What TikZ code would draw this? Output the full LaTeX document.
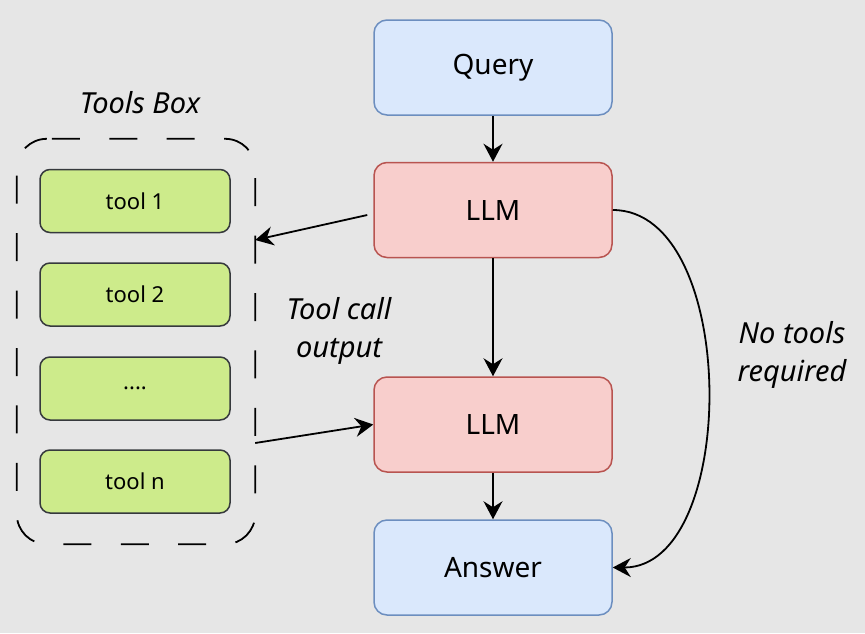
\documentclass[tikz,border=0pt]{standalone}
\usepackage{fontspec}
\setmainfont{Noto Sans}
\usetikzlibrary{arrows.meta}
\definecolor{bg}{HTML}{E6E6E6}
\definecolor{bluefill}{HTML}{DAE8FC}
\definecolor{blueedge}{HTML}{6C8EBF}
\definecolor{redfill}{HTML}{F8CECC}
\definecolor{rededge}{HTML}{B85450}
\definecolor{greenfill}{HTML}{CDEB8B}
\definecolor{greenedge}{HTML}{36393D}
\tikzset{
  mainbox/.style={rounded corners=13pt, minimum width=238pt, minimum height=95pt,
    line width=1.5pt, inner sep=0pt, font=\fontsize{28}{32}\selectfont},
  bluebox/.style={mainbox, draw=blueedge, fill=bluefill},
  redbox/.style={mainbox, draw=rededge, fill=redfill},
  toolitem/.style={rounded corners=10pt, minimum width=190pt, minimum height=63pt,
    line width=1.5pt, inner sep=0pt, draw=greenedge, fill=greenfill,
    font=\fontsize{22}{26}\selectfont},
  groupshape/.style={minimum width=238pt, minimum height=405pt, inner sep=0pt},
  groupline/.style={rounded corners=30pt, line width=1.8pt, draw=black,
    dash pattern=on 28pt off 29.45pt, dash phase=52.45pt},
  lbl/.style={font=\fontsize{29}{38}\itshape\selectfont, align=center, inner sep=0pt},
  arr/.style={line width=1.8pt, draw=black,
    -{Stealth[length=18pt,width=19pt,inset=6pt]}}
}
\begin{document}
\begin{tikzpicture}[x=1pt,y=-1pt]
\fill[bg] (0,0) rectangle (865,633);
\useasboundingbox (0,0) rectangle (865,633);

\node[groupshape] (tbox) at (136,341.5) {};
\draw[groupline] ([xshift=30pt]tbox.north west) -- (tbox.north east) -- (tbox.south east)
  -- (tbox.south west) -- (tbox.north west) -- ([xshift=30pt]tbox.north west);
\node[lbl] (tboxlbl) at (140,103) {Tools Box};

\node[toolitem] (tool1) at (135,201) {tool 1};
\node[toolitem] (tool2) at (135,294.5) {tool 2};
\node[toolitem] (tooldots) at (135,388.5) {....};
\node[toolitem] (tooln) at (135,481.5) {tool n};

\node[bluebox] (query) at (493,67.5) {Query};
\node[redbox] (llm1) at (493,210) {LLM};
\node[redbox] (llm2) at (493,424.5) {LLM};
\node[bluebox] (answer) at (493,567.5) {Answer};

\node[lbl] (tcout) at (339,331) {Tool call\\output};
\node[lbl] (notools) at (792,355) {No tools\\required};

\draw[arr] (query) -- (llm1);
\draw[arr] (llm1) -- (llm2);
\draw[arr] (llm2) -- (answer);
\draw[arr] ([shift={(-6,5)}]llm1.west) -- ([shift={(0,-101.5)}]tbox.east);
\draw[arr] ([shift={(0,101.5)}]tbox.east) -- (llm2.west);
\draw[arr] (llm1.east) .. controls ([shift={(127,0)}]llm1.east) and ([shift={(127,0)}]answer.east) .. (answer.east);
\end{tikzpicture}
\end{document}
